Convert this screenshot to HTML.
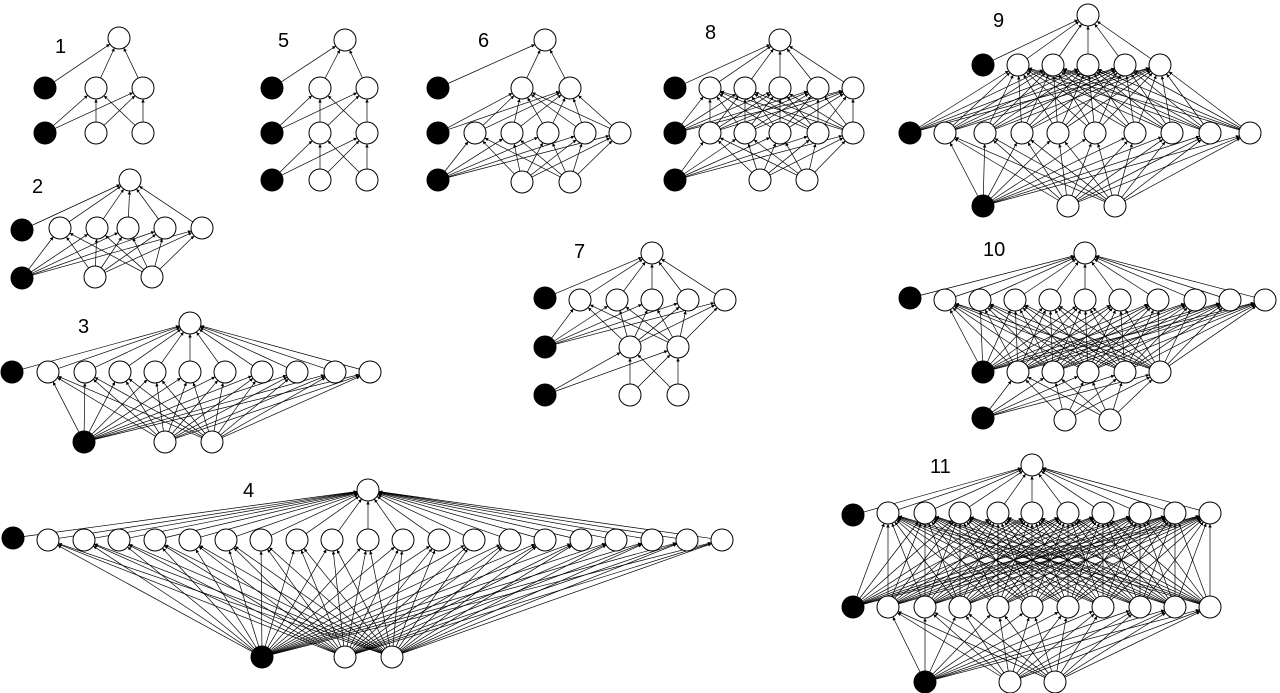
<!DOCTYPE html>
<html><head><meta charset="utf-8"><style>
html,body{margin:0;padding:0;background:#fff;}
svg{display:block;}
text{font-family:"Liberation Sans",sans-serif;font-size:20px;fill:#000;}
</style></head><body>
<svg id="c" width="1280" height="693" viewBox="0 0 1280 693">
<defs><marker id="ar" viewBox="0 0 6 6" refX="6" refY="3" markerWidth="5" markerHeight="5" orient="auto"><path d="M0,0L6,3L0,6z" fill="#000"/></marker></defs>
<g id="edges"></g><g id="nodes"></g><g id="labels"></g>
</svg>
<script>
// each network: label, label position, output node, layers (top to bottom), each layer: bias [x,y], node xs, y
const netLabels = ["1","2","3","4","5","6","7","8","9","10","11"];
const labelPos = [[55,53],[32,193],[78,333],[243,497],[278,47],[478,47],[574,258],[705,39],[993,27],[983,256],[930,473]];
const outputs = [[119,38],[130,180],[190,323],[368,490],[345,40],[545,40],[652,253],[780,40],[1088,15],[1085,253],[1032,465]];
const layers = [
 [[[45,88],[96,143],88],[[45,133],[96,143],133]],
 [[[22,230],[60,97,128,165,202],228],[[22,278],[95,152],277]],
 [[[12,372],[48,85,120,155,190,225,262,297,335,370],372],[[84,442],[165,212],442]],
 [[[13,538],[48,84,119,155,190,226,261,297,332,368,403,439,474,510,545,581,616,652,687,722],540],[[262,657],[345,392],657]],
 [[[272,88],[320,367],88],[[272,133],[320,367],133],[[272,180],[320,367],180]],
 [[[438,88],[522,570],88],[[438,133],[475,512,548,585,620],133],[[438,180],[522,570],182]],
 [[[545,298],[580,617,652,688,725],300],[[545,347],[630,678],347],[[545,395],[630,678],395]],
 [[[675,88],[710,745,780,818,853],88],[[675,133],[710,745,780,818,853],133],[[675,180],[760,807],180]],
 [[[983,65],[1018,1053,1088,1125,1160],65],[[910,133],[945,985,1022,1058,1095,1135,1172,1210,1250],133],[[983,206],[1068,1115],206]],
 [[[910,298],[945,980,1015,1050,1085,1120,1158,1195,1230,1265],300],[[983,372],[1018,1053,1088,1125,1160],372],[[983,418],[1065,1110],420]],
 [[[853,515],[888,925,960,998,1032,1068,1103,1140,1175,1210],513],[[853,607],[888,925,960,998,1032,1068,1103,1140,1175,1210],607],[[925,682],[1010,1055],682]]
];
const R=11, NS="http://www.w3.org/2000/svg";
const E=document.getElementById('edges'),N=document.getElementById('nodes'),L=document.getElementById('labels');
function edge(a,b){const dx=b[0]-a[0],dy=b[1]-a[1],d=Math.hypot(dx,dy);
 const l=document.createElementNS(NS,'line');
 l.setAttribute('x1',a[0]+dx/d*R);l.setAttribute('y1',a[1]+dy/d*R);
 l.setAttribute('x2',b[0]-dx/d*R);l.setAttribute('y2',b[1]-dy/d*R);
 l.setAttribute('stroke','#000');l.setAttribute('stroke-width','0.7');l.setAttribute('marker-end','url(#ar)');
 
 
 E.appendChild(l);}
function node(p,fill){const c=document.createElementNS(NS,'circle');
 c.setAttribute('cx',p[0]);c.setAttribute('cy',p[1]);c.setAttribute('r',R);
 c.setAttribute('fill',fill);c.setAttribute('stroke','#000');c.setAttribute('stroke-width','1');
 
 
 N.appendChild(c);}
netLabels.forEach((lab,i)=>{
 const t=document.createElementNS(NS,'text');t.setAttribute('x',labelPos[i][0]);t.setAttribute('y',labelPos[i][1]);t.textContent=lab;
 
 
 L.appendChild(t);
 const ls=layers[i];
 const pts=ls.map(l=>({bias:l[0],nodes:l[1].map(x=>[x,l[2]])}));
 // top layer -> output
 [pts[0].bias,...pts[0].nodes].forEach(p=>edge(p,outputs[i]));
 for(let k=1;k<pts.length;k++){
  [pts[k].bias,...pts[k].nodes].forEach(p=>pts[k-1].nodes.forEach(q=>edge(p,q)));
 }
 node(outputs[i],'#fff');
 pts.forEach(l=>{node(l.bias,'#000');l.nodes.forEach(p=>node(p,'#fff'));});
});
</script>
</body></html>
